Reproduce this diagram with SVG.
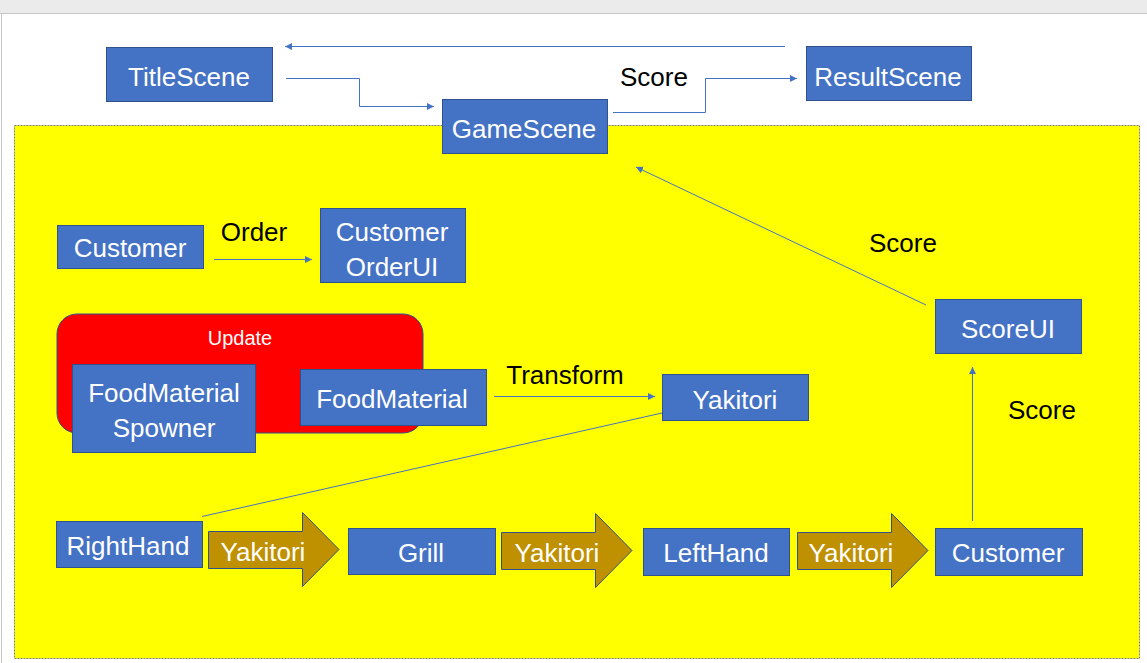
<svg xmlns="http://www.w3.org/2000/svg" width="1147" height="663" viewBox="0 0 1147 663">
<defs>
<marker id="ah" markerWidth="8" markerHeight="8" refX="7" refY="4" orient="auto" markerUnits="userSpaceOnUse">
<path d="M0,0.5 L7,4 L0,7.5 Z" fill="#4472c4"/>
</marker>
<style>
.box{fill:#4472c4;stroke:#2f528f;stroke-width:1}
.wt{fill:#ffffff;font-family:"Liberation Sans",Arial,sans-serif;font-size:26px;text-anchor:middle}
.bt{fill:#000000;font-family:"Liberation Sans",Arial,sans-serif;font-size:26px;text-anchor:middle}
.conn{fill:none;stroke:#4472c4;stroke-width:1}
.blk{fill:#bf9000;stroke:#2f528f;stroke-width:1}
</style>
</defs>
<rect x="0" y="0" width="1147" height="663" fill="#ffffff"/>
<rect x="0" y="0" width="1147" height="13" fill="#ebebeb"/>
<line x1="0" y1="13.5" x2="1147" y2="13.5" stroke="#c6c6c6" stroke-width="1"/>
<line x1="1.5" y1="13" x2="1.5" y2="663" stroke="#c6c6c6" stroke-width="1"/>
<rect id="area" x="14.5" y="125.5" width="1125" height="533" fill="#ffff00" stroke="#808080" stroke-width="1" stroke-dasharray="2,1"/>

<g id="update-group">
<rect x="57" y="314" width="366" height="119" rx="20" ry="20" fill="#ff0000" stroke="#2f528f" stroke-width="1"/>
<text x="240" y="345" fill="#ffffff" font-family="Liberation Sans, Arial, sans-serif" font-size="20" text-anchor="middle">Update</text>
</g>

<g id="TitleScene"><rect class="box" x="106.5" y="47.5" width="166" height="54"/><text class="wt" x="189" y="86">TitleScene</text></g>
<g id="ResultScene"><rect class="box" x="806.5" y="46.5" width="165" height="54"/><text class="wt" x="888" y="85.5">ResultScene</text></g>
<g id="GameScene"><rect class="box" x="442.5" y="99.5" width="165" height="54"/><text class="wt" x="524" y="137.5">GameScene</text></g>
<g id="Customer1"><rect class="box" x="57.5" y="225.5" width="146" height="43"/><text class="wt" x="130" y="256.5">Customer</text></g>
<g id="CustomerOrderUI"><rect class="box" x="320.5" y="208.5" width="145" height="74"/><text class="wt" x="392" y="241">Customer</text><text class="wt" x="392" y="276">OrderUI</text></g>
<g id="FoodMaterialSpowner"><rect class="box" x="72.5" y="364.5" width="183" height="88"/><text class="wt" x="164" y="401.5">FoodMaterial</text><text class="wt" x="164" y="436.5">Spowner</text></g>
<g id="FoodMaterial"><rect class="box" x="300.5" y="369.5" width="186" height="56"/><text class="wt" x="392" y="407.5">FoodMaterial</text></g>
<g id="Yakitori"><rect class="box" x="662.5" y="374.5" width="146" height="46"/><text class="wt" x="735" y="408.5">Yakitori</text></g>
<g id="ScoreUI"><rect class="box" x="935.5" y="299.5" width="146" height="54"/><text class="wt" x="1008" y="338">ScoreUI</text></g>
<g id="RightHand"><rect class="box" x="56.5" y="521.5" width="146" height="46"/><text class="wt" x="128" y="554.5">RightHand</text></g>
<g id="Grill"><rect class="box" x="348.5" y="528.5" width="147" height="46"/><text class="wt" x="421" y="561.5">Grill</text></g>
<g id="LeftHand"><rect class="box" x="643.5" y="528.5" width="146" height="47"/><text class="wt" x="716" y="562">LeftHand</text></g>
<g id="Customer2"><rect class="box" x="935.5" y="528.5" width="147" height="47"/><text class="wt" x="1008" y="562">Customer</text></g>

<g id="flow1"><path class="blk" d="M208.5,531.5 H302.5 V512.5 L339,549.5 L302.5,586.5 V568.5 H208.5 Z"/><text class="wt" x="263" y="561">Yakitori</text></g>
<g id="flow2"><path class="blk" d="M501.5,532.5 H595.5 V513.5 L632,550.5 L595.5,587.5 V569.5 H501.5 Z"/><text class="wt" x="557" y="561.5">Yakitori</text></g>
<g id="flow3"><path class="blk" d="M797.5,532.5 H891.5 V513.5 L928,550.5 L891.5,587.5 V569.5 H797.5 Z"/><text class="wt" x="851" y="561.5">Yakitori</text></g>

<g id="connectors">
<path class="conn" d="M286,78.5 H359.5 V106.5 H434" marker-end="url(#ah)"/>
<path class="conn" d="M785,46.5 H285" marker-end="url(#ah)"/>
<path class="conn" d="M613,112.5 H705.5 V78.5 H797" marker-end="url(#ah)"/>
<path class="conn" d="M214,259.5 H312" marker-end="url(#ah)"/>
<path class="conn" d="M494,396.5 H655" marker-end="url(#ah)"/>
<path class="conn" d="M202,516.5 L662,413"/>
<path class="conn" d="M926,305 L636,167" marker-end="url(#ah)"/>
<path class="conn" d="M972.5,521 V367" marker-end="url(#ah)"/>
</g>

<g id="labels">
<text class="bt" x="654" y="85.5">Score</text>
<text class="bt" x="254" y="241">Order</text>
<text class="bt" x="565" y="384">Transform</text>
<text class="bt" x="903" y="252">Score</text>
<text class="bt" x="1042" y="418.5">Score</text>
</g>
</svg>
